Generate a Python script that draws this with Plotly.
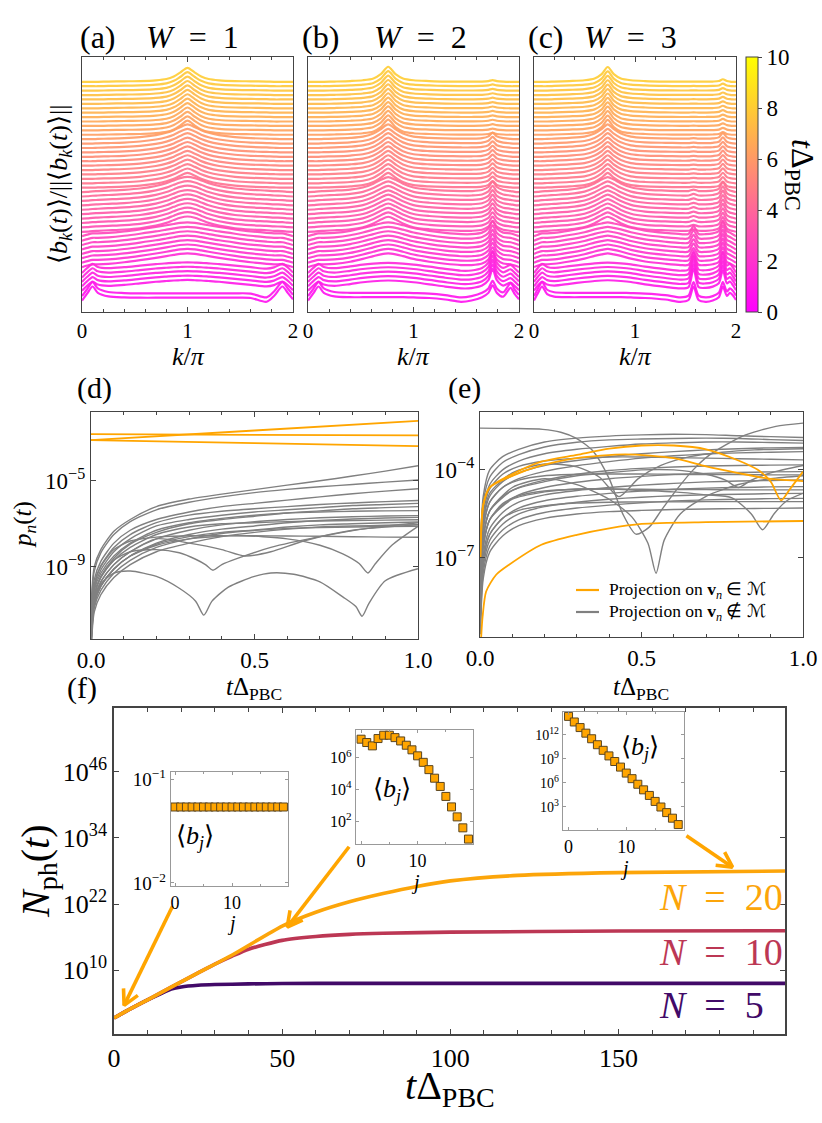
import numpy as np
import plotly.graph_objects as go

FIG_W, FIG_H = 822, 1123
FONT = "Liberation Serif"
ORANGE = "#FFA500"
GRAY = "#808080"
FRAME = "#444444"

# ------------------------------------------------------------------
# (a)-(c): waterfall of normalised <b_k(t)>, key profiles
# ------------------------------------------------------------------
N_CURVES = 50
T_FIRST, T_LAST = 0.6, 8.0          # colour-times of bottom / top curve
GROUP_START = [0, 2, 7, 15, 25, 37]  # first curve index using each key profile

K_A = [0, 0.05, 0.1, 0.15, 0.25, 0.4, 0.55, 0.7, 0.8, 0.87, 0.93, 1.0, 1.07, 1.13, 1.2, 1.3, 1.45, 1.6, 1.75, 1.82, 1.9, 1.95, 2.0]
A_P0 = [-1.0, 1.8, 4.5, 2.0, 0.6, 0.2, 0.1, 0.1, 0.1, 0.1, 0.1, 0.1, 0.1, 0.1, 0.1, 0.1, 0.1, 0.0, -1.5, 0.8, 4.5, 2.0, -0.5]
A_P1 = [-0.6, 1.4, 3.0, 1.8, 1.3, 1.7, 2.3, 2.9, 3.2, 3.4, 3.5, 3.6, 3.5, 3.4, 3.2, 2.9, 2.3, 1.7, 1.1, 1.6, 3.0, 1.6, -0.4]
A_P2 = [0.0, 0.6, 1.1, 1.1, 1.3, 1.9, 2.7, 3.6, 4.3, 4.8, 5.2, 5.4, 5.2, 4.8, 4.3, 3.6, 2.7, 1.9, 1.3, 1.1, 1.1, 0.6, 0.0]
A_P3 = [0.0, 0.1, 0.3, 0.4, 0.6, 0.9, 1.4, 2.4, 3.5, 4.6, 5.5, 6.0, 5.5, 4.6, 3.5, 2.4, 1.4, 0.9, 0.6, 0.4, 0.3, 0.1, 0.0]
A_P4 = [0.0, 0.0, 0.0, 0.1, 0.2, 0.4, 0.8, 1.6, 2.5, 3.5, 4.7, 5.8, 4.7, 3.5, 2.5, 1.6, 0.8, 0.4, 0.2, 0.1, 0.0, 0.0, 0.0]
A_P5 = [0.0, 0.0, 0.0, 0.0, 0.1, 0.2, 0.3, 0.6, 1.1, 2.1, 3.6, 5.5, 3.6, 2.1, 1.1, 0.6, 0.3, 0.2, 0.1, 0.0, 0.0, 0.0, 0.0]

K_B = [0, 0.05, 0.1, 0.15, 0.25, 0.4, 0.52, 0.62, 0.69, 0.76, 0.83, 0.9, 1.0, 1.15, 1.3, 1.45, 1.55, 1.65, 1.71, 1.75, 1.79, 1.85, 1.92, 1.96, 2.0]
B_P0 = [-1.0, 1.8, 4.5, 2.0, 0.6, 0.3, 0.3, 0.3, 0.3, 0.3, 0.3, 0.3, 0.2, 0.0, -0.6, -1.5, -1.0, 0.3, 2.0, 5.0, 2.0, 0.5, 4.0, 1.5, -0.5]
B_P1 = [-0.6, 1.4, 3.0, 1.8, 1.3, 2.0, 2.7, 3.1, 3.3, 3.4, 3.3, 3.1, 2.7, 1.9, 1.0, 0.3, 0.4, 1.4, 3.5, 8.0, 3.5, 1.4, 2.6, 1.2, -0.4]
B_P2 = [0.0, 0.6, 1.1, 1.1, 1.3, 2.1, 3.2, 4.3, 5.0, 5.4, 5.0, 4.3, 3.2, 2.1, 1.3, 0.8, 0.8, 1.4, 3.0, 6.0, 3.0, 1.4, 1.1, 0.6, 0.0]
B_P3 = [0.0, 0.1, 0.3, 0.4, 0.6, 1.0, 1.8, 3.3, 4.8, 5.9, 4.8, 3.3, 1.8, 1.0, 0.6, 0.4, 0.4, 0.8, 2.0, 4.2, 2.0, 0.8, 0.4, 0.1, 0.0]
B_P4 = [0.0, 0.0, 0.0, 0.1, 0.2, 0.5, 1.0, 2.2, 3.9, 5.8, 3.9, 2.2, 1.0, 0.5, 0.3, 0.2, 0.2, 0.4, 1.1, 2.6, 1.1, 0.4, 0.1, 0.0, 0.0]
B_P5 = [0.0, 0.0, 0.0, 0.0, 0.1, 0.3, 0.6, 1.3, 3.0, 5.9, 3.0, 1.3, 0.6, 0.3, 0.1, 0.05, 0.05, 0.1, 0.3, 0.7, 0.3, 0.1, 0.0, 0.0, 0.0]

K_C = [0, 0.04, 0.08, 0.13, 0.2, 0.35, 0.5, 0.6, 0.67, 0.73, 0.79, 0.86, 0.96, 1.1, 1.3, 1.45, 1.53, 1.58, 1.63, 1.7, 1.77, 1.83, 1.87, 1.91, 1.94, 1.97, 2.0]
C_P0 = [-1.0, 2.0, 4.5, 1.5, 0.5, 0.3, 0.3, 0.3, 0.3, 0.3, 0.3, 0.3, 0.2, 0.0, -0.6, -1.5, -0.8, 4.5, -0.8, -1.5, -1.0, 0.3, 4.5, 0.8, 2.0, 1.0, -0.8]
C_P1 = [-0.6, 1.5, 3.0, 1.8, 1.4, 2.1, 2.8, 3.2, 3.4, 3.5, 3.4, 3.2, 2.8, 1.9, 0.9, 0.3, 0.8, 8.0, 0.8, 0.5, 1.0, 2.3, 7.5, 2.3, 3.0, 1.5, -0.4]
C_P2 = [0.0, 0.6, 1.1, 1.1, 1.3, 2.2, 3.3, 4.4, 5.0, 5.4, 5.0, 4.4, 3.3, 2.2, 1.3, 0.8, 0.9, 4.0, 0.9, 0.8, 1.1, 2.0, 6.0, 2.0, 1.4, 0.7, 0.0]
C_P3 = [0.0, 0.1, 0.3, 0.4, 0.6, 1.0, 1.9, 3.4, 4.9, 5.9, 4.9, 3.4, 1.9, 1.0, 0.6, 0.4, 0.4, 1.0, 0.4, 0.4, 0.6, 1.3, 4.0, 1.3, 0.6, 0.3, 0.0]
C_P4 = [0.0, 0.0, 0.0, 0.1, 0.2, 0.5, 1.0, 2.2, 3.9, 5.8, 3.9, 2.2, 1.0, 0.5, 0.3, 0.2, 0.2, 0.4, 0.2, 0.2, 0.3, 0.7, 2.4, 0.7, 0.3, 0.1, 0.0]
C_P5 = [0.0, 0.0, 0.0, 0.0, 0.1, 0.3, 0.6, 1.3, 3.0, 5.8, 3.0, 1.3, 0.6, 0.3, 0.1, 0.05, 0.05, 0.1, 0.05, 0.05, 0.1, 0.3, 1.0, 0.3, 0.1, 0.0, 0.0]

Y_BASE, Y_STEP = 5.5, 1.73   # waterfall offset (style)

# ------------------------------------------------------------------
# (d): p_n(t), log10 values
# ------------------------------------------------------------------
D_T = [0.001, 0.01, 0.03, 0.07, 0.12, 0.2, 0.3, 0.4, 0.5, 0.6, 0.7, 0.8, 0.9, 1.0]
D_G01 = [-10.6, -9.0, -8.2, -7.35, -6.8, -6.2, -5.85, -5.62, -5.41, -5.2, -5.0, -4.78, -4.55, -4.30]
D_G02 = [-10.8, -9.2, -8.35, -7.5, -6.9, -6.35, -6.0, -5.75, -5.55, -5.4, -5.28, -5.17, -5.06, -4.96]
D_G03 = [-11.2, -9.6, -8.75, -7.9, -7.3, -6.8, -6.45, -6.2, -6.05, -5.9, -5.75, -5.6, -5.48, -5.37]
D_G04 = [-11.4, -9.8, -8.95, -8.1, -7.5, -6.95, -6.6, -6.42, -6.3, -6.2, -6.1, -6.03, -5.97, -5.92]
D_G05 = [-11.6, -10.0, -9.15, -8.3, -7.7, -7.1, -6.8, -6.6, -6.45, -6.35, -6.25, -6.15, -6.1, -6.05]
D_G06 = [-11.9, -10.3, -9.45, -8.6, -7.95, -7.4, -7.0, -6.8, -6.65, -6.5, -6.4, -6.3, -6.25, -6.2]
D_G07 = [-11.7, -10.1, -9.3, -8.5, -7.9, -7.3, -6.95, -6.75, -6.6, -6.5, -6.45, -6.42, -6.4, -6.39]
D_G08 = [-12.1, -10.5, -9.7, -8.9, -8.3, -7.7, -7.3, -7.05, -6.9, -6.8, -6.72, -6.67, -6.64, -6.62]
D_G09 = [-12.3, -10.7, -9.9, -9.1, -8.5, -7.9, -7.5, -7.25, -7.1, -6.95, -6.85, -6.78, -6.73, -6.70]
D_G10 = [-11.9, -10.3, -9.5, -8.7, -8.1, -7.5, -7.15, -7.0, -6.95, -6.9, -6.87, -6.85, -6.83, -6.81]
D_G11 = [-12.5, -10.9, -10.1, -9.3, -8.7, -8.1, -7.7, -7.45, -7.3, -7.15, -7.05, -7.0, -6.95, -6.92]
D_G12 = [-12.7, -11.1, -10.3, -9.5, -8.9, -8.3, -7.9, -7.6, -7.4, -7.25, -7.15, -7.1, -7.07, -7.04]
D_G13 = [-12.3, -10.7, -9.9, -9.1, -8.5, -7.95, -7.6, -7.4, -7.3, -7.22, -7.17, -7.15, -7.13, -7.12]
D_G14 = [-11.5, -9.9, -9.0, -8.2, -7.8, -7.62, -7.56, -7.55, -7.56, -7.57, -7.58, -7.6, -7.62, -7.63]

D_C1_T = [0.001, 0.01, 0.03, 0.07, 0.12, 0.2, 0.27, 0.32, 0.35, 0.373, 0.4, 0.45, 0.55, 0.7, 0.85, 1.0]
D_C1 = [-12.0, -10.4, -9.5, -8.7, -8.3, -8.2, -8.35, -8.65, -8.9, -9.16, -8.9, -8.6, -8.1, -7.6, -7.2, -6.95]
D_C2_T = [0.001, 0.01, 0.03, 0.07, 0.12, 0.2, 0.3, 0.4, 0.47, 0.55, 0.65, 0.8, 1.0]
D_C2 = [-12.2, -10.6, -9.7, -8.9, -8.3, -7.7, -7.9, -8.2, -8.5, -8.3, -7.8, -7.3, -7.05]
D_C3_T = [0.001, 0.01, 0.03, 0.07, 0.12, 0.2, 0.3, 0.45, 0.6, 0.7, 0.77, 0.82, 0.847, 0.87, 0.92, 1.0]
D_C3 = [-12.4, -10.8, -9.9, -9.1, -8.5, -8.0, -7.7, -7.55, -7.7, -8.0, -8.4, -8.85, -9.29, -8.85, -8.0, -7.12]
D_C4_T = [0.001, 0.01, 0.03, 0.07, 0.12, 0.2, 0.27, 0.32, 0.345, 0.37, 0.42, 0.5, 0.55, 0.62, 0.7, 0.77, 0.81, 0.829, 0.85, 0.9, 1.0]
D_C4 = [-12.4, -10.6, -9.8, -9.3, -9.2, -9.45, -10.0, -10.6, -11.25, -10.6, -9.95, -9.45, -9.29, -9.35, -9.7, -10.4, -10.85, -11.3, -10.7, -9.65, -9.09]

D_OR_T = [0.0, 0.5, 1.0]
D_O1 = [-3.11, -2.66, -2.21]
D_O2 = [-2.83, -2.86, -2.89]
D_O3 = [-3.11, -3.25, -3.39]

# ------------------------------------------------------------------
# (e): p_n(t), log10 values
# ------------------------------------------------------------------
E_T = [0.001, 0.01, 0.03, 0.07, 0.12, 0.2, 0.3, 0.4, 0.5, 0.6, 0.7, 0.8, 0.9, 1.0]
E_G01 = [-6.8, -4.9, -4.0, -3.55, -3.3, -3.05, -2.92, -2.85, -2.81, -2.79, -2.8, -2.84, -2.87, -2.9]
E_G02 = [-7.0, -5.1, -4.25, -3.75, -3.48, -3.22, -3.06, -2.98, -2.95, -2.93, -2.92, -2.93, -2.97, -3.0]
E_G03 = [-7.3, -5.4, -4.5, -4.0, -3.7, -3.45, -3.3, -3.2, -3.12, -3.08, -3.05, -3.05, -3.07, -3.09]
E_G04 = [-7.7, -5.8, -4.9, -4.4, -4.1, -3.85, -3.68, -3.55, -3.45, -3.38, -3.32, -3.28, -3.25, -3.24]
E_G05 = [-7.9, -6.0, -5.1, -4.6, -4.3, -4.05, -3.86, -3.72, -3.6, -3.52, -3.46, -3.42, -3.4, -3.38]
E_G06 = [-7.4, -5.5, -4.65, -4.15, -3.88, -3.7, -3.6, -3.56, -3.56, -3.58, -3.6, -3.62, -3.64, -3.66]
E_G07 = [-8.2, -6.3, -5.4, -4.9, -4.6, -4.35, -4.15, -4.02, -3.95, -3.9, -3.87, -3.85, -3.84, -3.83]
E_G08 = [-8.5, -6.6, -5.7, -5.2, -4.85, -4.6, -4.42, -4.3, -4.22, -4.16, -4.12, -4.09, -4.07, -4.06]
E_G09 = [-7.9, -6.0, -5.1, -4.6, -4.35, -4.2, -4.15, -4.14, -4.14, -4.15, -4.16, -4.16, -4.17, -4.17]
E_G10 = [-8.8, -6.9, -6.0, -5.45, -5.1, -4.85, -4.7, -4.6, -4.52, -4.46, -4.41, -4.38, -4.36, -4.34]
E_G11 = [-9.0, -7.1, -6.2, -5.65, -5.3, -5.05, -4.9, -4.8, -4.72, -4.66, -4.62, -4.6, -4.58, -4.57]
E_G12 = [-8.5, -6.6, -5.7, -5.15, -4.88, -4.72, -4.66, -4.65, -4.66, -4.67, -4.67, -4.68, -4.68, -4.68]
E_G13 = [-9.2, -7.3, -6.4, -5.85, -5.5, -5.25, -5.1, -5.0, -4.93, -4.88, -4.85, -4.83, -4.81, -4.8]
E_G14 = [-9.4, -7.5, -6.6, -6.05, -5.7, -5.45, -5.3, -5.2, -5.12, -5.06, -5.02, -5.0, -4.98, -4.97]
E_G15 = [-9.0, -7.1, -6.2, -5.65, -5.38, -5.22, -5.13, -5.1, -5.09, -5.09, -5.08, -5.08, -5.08, -5.08]
E_G16 = [-9.6, -7.7, -6.8, -6.25, -5.9, -5.65, -5.5, -5.42, -5.38, -5.35, -5.33, -5.32, -5.31, -5.3]

E_C1_T = [0.0, 0.1, 0.194, 0.25, 0.297, 0.349, 0.4, 0.442, 0.483, 0.524, 0.56, 0.607, 0.66, 0.71, 0.813, 0.916, 1.0]
E_C1 = [-2.58, -2.59, -2.62, -2.72, -2.92, -3.35, -4.3, -5.5, -6.19, -5.95, -5.4, -4.7, -4.0, -3.5, -2.85, -2.52, -2.41]
E_C2_T = [0.001, 0.01, 0.03, 0.1, 0.2, 0.3, 0.4, 0.47, 0.52, 0.545, 0.57, 0.62, 0.7, 0.8, 0.9, 1.0]
E_C2 = [-8.2, -6.3, -5.4, -4.6, -4.3, -4.5, -5.0, -5.6, -6.5, -7.52, -6.4, -5.5, -4.9, -4.5, -4.3, -4.2]
E_C3_T = [0.001, 0.01, 0.03, 0.1, 0.2, 0.3, 0.4, 0.5, 0.6, 0.7, 0.78, 0.84, 0.875, 0.91, 0.95, 1.0]
E_C3 = [-8.5, -6.6, -5.7, -5.0, -4.75, -4.65, -4.65, -4.7, -4.75, -4.85, -4.95, -5.5, -6.04, -5.5, -5.05, -4.8]
E_C4_T = [0.001, 0.01, 0.03, 0.1, 0.2, 0.3, 0.4, 0.5, 0.6, 0.7, 0.76, 0.8, 0.84, 0.9, 1.0]
E_C4 = [-8.2, -6.3, -5.4, -4.7, -4.4, -4.2, -4.1, -4.0, -4.0, -4.15, -4.35, -4.6, -4.35, -4.1, -3.85]
E_C5_T = [0.001, 0.01, 0.03, 0.1, 0.2, 0.3, 0.37, 0.43, 0.49, 0.56, 0.65, 0.75, 0.85, 1.0]
E_C5 = [-7.6, -5.7, -4.8, -4.1, -3.8, -3.9, -4.25, -4.91, -4.3, -3.85, -3.55, -3.4, -3.32, -3.28]

E_O1_T = [0.001, 0.01, 0.03, 0.09, 0.19, 0.3, 0.4, 0.5, 0.6, 0.7, 0.8, 0.86, 0.9, 0.932, 0.96, 1.0]
E_O1 = [-7.0, -5.2, -4.6, -4.2, -3.72, -3.49, -3.28, -3.17, -3.17, -3.3, -3.68, -4.0, -4.4, -5.04, -4.65, -4.06]
E_O2_T = [0.001, 0.01, 0.03, 0.09, 0.19, 0.3, 0.45, 0.6, 0.7, 0.8, 0.9, 1.0]
E_O2 = [-7.0, -5.2, -4.6, -4.25, -3.85, -3.6, -3.47, -3.6, -3.88, -4.11, -4.31, -4.38]
E_O3_T = [0.002, 0.008, 0.019, 0.05, 0.09, 0.19, 0.3, 0.4, 0.5, 0.7, 1.0]
E_O3 = [-10.0, -9.0, -8.14, -7.57, -7.23, -6.55, -6.21, -5.99, -5.84, -5.78, -5.74]

# ------------------------------------------------------------------
# (f): N_ph(t), log10 values
# ------------------------------------------------------------------
F_T20 = [0, 5, 10, 17, 25, 35, 50, 60, 70, 80, 90, 100, 120, 150, 200]
F_N20 = [1.3, 3.0, 4.6, 6.9, 9.5, 12.7, 18.0, 20.5, 22.4, 23.9, 25.2, 26.2, 27.2, 27.7, 28.0]
F_T10 = [0, 5, 10, 17, 25, 30, 35, 40, 50, 60, 70, 80, 100, 150, 200]
F_N10 = [1.3, 3.0, 4.6, 6.9, 9.5, 11.1, 12.5, 13.8, 15.4, 16.1, 16.5, 16.7, 16.9, 17.1, 17.15]
F_T5 = [0, 5, 10, 14, 17, 20, 25, 30, 40, 50, 70, 100, 200]
F_N5 = [1.3, 3.0, 4.6, 5.75, 6.55, 6.95, 7.25, 7.38, 7.5, 7.56, 7.6, 7.6, 7.6]
F_LABELS = ["<i>N</i>\u2002=\u200220", "<i>N</i>\u2002=\u200210", "<i>N</i>\u2002=\u20025"]
F_COLORS = ["#FCA50A", "#BC3754", "#420A68"]

ARROW_T0 = [17.4, 69.9, 170.2]
ARROW_L0 = [21.6, 32.4, 34.4]
ARROW_T1 = [3.0, 51.5, 183.9]
ARROW_L1 = [3.6, 17.8, 28.7]

# insets: <b_j>
J = [0, 1, 2, 3, 4, 5, 6, 7, 8, 9, 10, 11, 12, 13, 14, 15, 16, 17, 18, 19]
INSET1_B = [0.054, 0.054, 0.054, 0.054, 0.054, 0.054, 0.054, 0.054, 0.054, 0.054,
            0.054, 0.054, 0.054, 0.054, 0.054, 0.054, 0.054, 0.054, 0.054, 0.054]
INSET2_LOG = [7.17, 6.96, 6.75, 7.21, 7.42, 7.42, 7.27, 7.06, 6.79, 6.5,
              6.12, 5.71, 5.25, 4.71, 4.19, 3.56, 2.9, 2.27, 1.58, 0.87]
INSET3_LOG = [14.3, 13.6, 12.9, 12.2, 11.5, 10.75, 10.05, 9.35, 8.65, 7.95,
              7.2, 6.5, 5.8, 5.1, 4.4, 3.65, 2.95, 2.25, 1.55, 0.75]


# ------------------------------------------------------------------
def xd(p0, p1):
    return [p0 / FIG_W, p1 / FIG_W]


def yd(p0, p1):
    return [1 - p1 / FIG_H, 1 - p0 / FIG_H]


def PX(x):
    return x / FIG_W


def PY(y):
    return 1 - y / FIG_H


def spring(x):
    x = min(max(x, 0.0), 1.0)
    return f"rgb(255,{round(255 * x)},{round(255 * (1 - x))})"


def p10(v):
    return [10.0 ** a for a in v]


fig = go.Figure()

# ---- top waterfalls
times = np.linspace(T_FIRST, T_LAST, N_CURVES)
tops = [(K_A, [A_P0, A_P1, A_P2, A_P3, A_P4, A_P5], "x", "y"),
        (K_B, [B_P0, B_P1, B_P2, B_P3, B_P4, B_P5], "x2", "y2"),
        (K_C, [C_P0, C_P1, C_P2, C_P3, C_P4, C_P5], "x3", "y3")]
for K, profs, xa, ya in tops:
    for p in profs:
        assert len(p) == len(K)
    for i in range(N_CURVES):
        g = max(j for j, s in enumerate(GROUP_START) if s <= i)
        yv = [Y_BASE + Y_STEP * i + v for v in profs[g]]
        fig.add_trace(go.Scatter(x=K, y=yv, mode="lines",
                                 line=dict(color=spring(times[i] / 10), width=2.2, shape="spline", smoothing=0.8),
                                 opacity=0.9, xaxis=xa, yaxis=ya, showlegend=False, hoverinfo="skip"))

# colour bar carrier
CBAR = dict(x=PX(746), xanchor="left", xpad=0, y=PY(184.5), yanchor="middle",
            ypad=0, len=255, lenmode="pixels", thickness=12,
            thicknessmode="pixels", outlinewidth=1, outlinecolor=FRAME,
            tickmode="array", tickvals=[0, 2, 4, 6, 8, 10],
            ticks="outside", ticklen=4, tickcolor=FRAME,
            tickfont=dict(family=FONT, size=23, color="black"))
fig.add_trace(go.Scatter(x=[1], y=[-50], mode="markers", xaxis="x3", yaxis="y3", showlegend=False,
                         hoverinfo="skip",
                         marker=dict(size=1, color=[0], cmin=0, cmax=10,
                                     colorscale=[[0, "rgb(255,0,255)"], [1, "rgb(255,255,0)"]],
                                     showscale=True, colorbar=CBAR)))


def line_trace(x, logv, color, width, xa, ya):
    return go.Scatter(x=x, y=p10(logv), mode="lines",
                      line=dict(color=color, width=width, shape="spline", smoothing=0.7),
                      xaxis=xa, yaxis=ya, showlegend=False, hoverinfo="skip")


# ---- (d)
for g in [D_G01, D_G02, D_G03, D_G04, D_G05, D_G06, D_G07, D_G08, D_G09, D_G10, D_G11, D_G12, D_G13, D_G14]:
    fig.add_trace(line_trace(D_T, g, GRAY, 1.4, "x4", "y4"))
for t, g in [(D_C1_T, D_C1), (D_C2_T, D_C2), (D_C3_T, D_C3), (D_C4_T, D_C4)]:
    fig.add_trace(line_trace(t, g, GRAY, 1.4, "x4", "y4"))
for g in [D_O1, D_O2, D_O3]:
    fig.add_trace(line_trace(D_OR_T, g, ORANGE, 1.8, "x4", "y4"))

# ---- (e)
for g in [E_G01, E_G02, E_G03, E_G04, E_G05, E_G06, E_G07, E_G08, E_G09, E_G10, E_G11, E_G12, E_G13,
          E_G14, E_G15, E_G16]:
    fig.add_trace(line_trace(E_T, g, GRAY, 1.4, "x5", "y5"))
for t, g in [(E_C1_T, E_C1), (E_C2_T, E_C2), (E_C3_T, E_C3), (E_C4_T, E_C4), (E_C5_T, E_C5)]:
    fig.add_trace(line_trace(t, g, GRAY, 1.4, "x5", "y5"))
for t, g in [(E_O1_T, E_O1), (E_O2_T, E_O2), (E_O3_T, E_O3)]:
    fig.add_trace(line_trace(t, g, ORANGE, 1.8, "x5", "y5"))

# ---- (f)
F_DOM_X = (114, 785)
F_DOM_Y = (708, 1034)
F_XR = [0, 199.5]
F_YR = [-1.6, 57.6]
for t, v, c in [(F_T5, F_N5, F_COLORS[2]), (F_T10, F_N10, F_COLORS[1]), (F_T20, F_N20, F_COLORS[0])]:
    fig.add_trace(go.Scatter(x=t, y=p10(v), mode="lines", line=dict(color=c, width=3.6, shape="spline", smoothing=0.6),
                             xaxis="x6", yaxis="y6", showlegend=False, hoverinfo="skip"))


def f_px(t, lg):
    x = F_DOM_X[0] + (t - F_XR[0]) / (F_XR[1] - F_XR[0]) * (F_DOM_X[1] - F_DOM_X[0])
    y = F_DOM_Y[1] - (lg - F_YR[0]) / (F_YR[1] - F_YR[0]) * (F_DOM_Y[1] - F_DOM_Y[0])
    return x, y


def f_data(x, y):
    t = F_XR[0] + (x - F_DOM_X[0]) / (F_DOM_X[1] - F_DOM_X[0]) * (F_XR[1] - F_XR[0])
    lg = F_YR[0] + (F_DOM_Y[1] - y) / (F_DOM_Y[1] - F_DOM_Y[0]) * (F_YR[1] - F_YR[0])
    return t, lg


HEAD_LEN, HEAD_ANG = 17.0, np.radians(28)
for t0, l0, t1, l1 in zip(ARROW_T0, ARROW_L0, ARROW_T1, ARROW_L1):
    x0, y0 = f_px(t0, l0)
    x1, y1 = f_px(t1, l1)
    d = np.array([x1 - x0, y1 - y0])
    d = d / np.linalg.norm(d)
    pts = []
    for s in (+1, -1):
        c, sn = np.cos(s * HEAD_ANG), np.sin(s * HEAD_ANG)
        r = np.array([c * d[0] - sn * d[1], sn * d[0] + c * d[1]])
        pts.append((x1 - HEAD_LEN * r[0], y1 - HEAD_LEN * r[1]))
    seq = [(x0, y0), (x1, y1), None, pts[0], (x1, y1), pts[1]]
    xs, ys = [], []
    for p in seq:
        if p is None:
            xs.append(None)
            ys.append(None)
        else:
            tt, ll = f_data(*p)
            xs.append(tt)
            ys.append(10.0 ** ll)
    fig.add_trace(go.Scatter(x=xs, y=ys, mode="lines", line=dict(color=ORANGE, width=3.6),
                             xaxis="x6", yaxis="y6", showlegend=False, hoverinfo="skip"))

# ---- insets
MK = dict(symbol="square", size=8, color=ORANGE, line=dict(color="#5a4520", width=1))
fig.add_trace(go.Scatter(x=J, y=INSET1_B, mode="markers", marker=MK, xaxis="x7", yaxis="y7",
                         showlegend=False, hoverinfo="skip"))
fig.add_trace(go.Scatter(x=J, y=p10(INSET2_LOG), mode="markers", marker=MK, xaxis="x8", yaxis="y8",
                         showlegend=False, hoverinfo="skip"))
fig.add_trace(go.Scatter(x=J, y=p10(INSET3_LOG), mode="markers", marker=MK, xaxis="x9", yaxis="y9",
                         showlegend=False, hoverinfo="skip"))


# ------------------------------------------------------------------
def axis(domain, anchor, size=20, lc=FRAME, **kw):
    d = dict(domain=domain, anchor=anchor, showline=True, linecolor=lc, linewidth=1.2, mirror="ticks",
             ticks="inside", ticklen=5, tickcolor=lc, showgrid=False, zeroline=False, automargin=False,
             tickfont=dict(family=FONT, size=size, color="black"))
    d.update(kw)
    return d


def sup(e):
    return "10<sup>" + str(e).replace("-", "\u2212") + "</sup>"


TOPX = dict(range=[0, 2], tickmode="array", tickvals=[0, 1, 2], ticktext=["0", "1", "2"],
            minor=dict(tickmode="linear", tick0=0, dtick=0.2, ticks="inside", ticklen=3, tickcolor=FRAME))
TOPY = dict(range=[0, 100], showticklabels=False, ticks="")
MINOR_D = dict(tickmode="linear", tick0=0, dtick=0.1, ticks="inside", ticklen=3, tickcolor=FRAME)
MINOR_F = dict(tickmode="linear", tick0=0, dtick=10, ticks="inside", ticklen=4, tickcolor=FRAME)
MINOR_I = dict(tickmode="linear", tick0=0, dtick=5, ticks="inside", ticklen=2, tickcolor="#999999")

lay = dict(
    xaxis=axis(xd(82, 293), "y", size=21, **TOPX),
    yaxis=axis(yd(57, 312), "x", **TOPY),
    xaxis2=axis(xd(308, 519), "y2", size=21, **TOPX),
    yaxis2=axis(yd(57, 312), "x2", **TOPY),
    xaxis3=axis(xd(534, 736), "y3", size=21, **TOPX),
    yaxis3=axis(yd(57, 312), "x3", **TOPY),
    xaxis4=axis(xd(91, 418), "y4", size=23, range=[0, 1], tickmode="array", tickvals=[0, 0.5, 1],
                ticktext=["0.0", "0.5", "1.0"], minor=MINOR_D),
    yaxis4=axis(yd(412, 639), "x4", size=23, type="log", range=[-12.36, -1.8], tickmode="array",
                tickvals=[1e-9, 1e-5], ticktext=[sup(-9), sup(-5)]),
    xaxis5=axis(xd(480, 803), "y5", size=23, range=[0, 1], tickmode="array", tickvals=[0, 0.5, 1],
                ticktext=["0.0", "0.5", "1.0"], minor=MINOR_D),
    yaxis5=axis(yd(412, 637), "x5", size=23, type="log", range=[-9.69, -2.03], tickmode="array",
                tickvals=[1e-7, 1e-4], ticktext=[sup(-7), sup(-4)]),
    xaxis6=axis(xd(*F_DOM_X), "y6", size=26, range=F_XR, tickmode="array", tickvals=[0, 50, 100, 150],
                ticktext=["0", "50", "100", "150"], linewidth=1.8, minor=MINOR_F),
    yaxis6=axis(yd(*F_DOM_Y), "x6", size=26, type="log", range=F_YR, tickmode="array", linewidth=1.8,
                tickvals=[1e10, 1e22, 1e34, 1e46], ticktext=[sup(10), sup(22), sup(34), sup(46)]),
    xaxis7=axis(xd(171, 288), "y7", size=18, lc="#999999", range=[-0.7, 19.8], tickmode="array",
                tickvals=[0, 10], ticktext=["0", "10"], ticklen=3, minor=MINOR_I),
    yaxis7=axis(yd(772, 886), "x7", size=19, lc="#999999", type="log", range=[-2.03, -0.93], tickmode="array",
                tickvals=[0.01, 0.1], ticktext=[sup(-2), sup(-1)], ticklen=3),
    xaxis8=axis(xd(356, 473), "y8", size=18, lc="#999999", range=[-0.9, 19.8], tickmode="array",
                tickvals=[0, 10], ticktext=["0", "10"], ticklen=3, minor=MINOR_I),
    yaxis8=axis(yd(730, 844), "x8", size=16, lc="#999999", type="log", range=[0.56, 7.75], tickmode="array",
                tickvals=[1e2, 1e4, 1e6], ticktext=[sup(2), sup(4), sup(6)], ticklen=3),
    xaxis9=axis(xd(563, 684), "y9", size=18, lc="#999999", range=[-0.96, 20], tickmode="array",
                tickvals=[0, 10], ticktext=["0", "10"], ticklen=3, minor=MINOR_I),
    yaxis9=axis(yd(712, 830), "x9", size=14, lc="#999999", type="log", range=[0.07, 14.85], tickmode="array",
                tickvals=[1e3, 1e6, 1e9, 1e12], ticktext=[sup(3), sup(6), sup(9), sup(12)], ticklen=3),
)


def ann(text, x, y, size, xanchor="center", yanchor="middle", angle=0, color="black"):
    return dict(text=text, x=PX(x), y=PY(y), xref="paper", yref="paper", showarrow=False,
                xanchor=xanchor, yanchor=yanchor, textangle=angle,
                font=dict(family=FONT, size=size, color=color))


TDPBC = "<i>t</i>\u0394<sub>PBC</sub>"
KPI = "<i>k</i>/<i>\u03c0</i>"
BJ = "\u27e8<i>b</i><sub><i>j</i></sub>\u27e9"
anns = [
    ann("(a)", 78, 37, 32, xanchor="left"), ann("<i>W</i>\u2002=\u20021", 144, 37, 32, xanchor="left"),
    ann("(b)", 300, 37, 32, xanchor="left"), ann("<i>W</i>\u2002=\u20022", 372, 37, 32, xanchor="left"),
    ann("(c)", 526, 37, 32, xanchor="left"), ann("<i>W</i>\u2002=\u20023", 582, 37, 32, xanchor="left"),
    ann(KPI, 188, 356, 26), ann(KPI, 413, 356, 26), ann(KPI, 635, 356, 26),
    ann("\u27e8<i>b</i><sub><i>k</i></sub>(<i>t</i>)\u27e9/||\u27e8<i>b</i><sub><i>k</i></sub>(<i>t</i>)\u27e9||",
        60, 184, 26, angle=-90),
    ann(TDPBC, 801, 175, 32, angle=90),
    ann("(d)", 75, 388, 30, xanchor="left"), ann("(e)", 446, 388, 30, xanchor="left"),
    ann("<i>p</i><sub><i>n</i></sub>(<i>t</i>)", 24, 525, 25, angle=-90),
    ann(TDPBC, 254, 688, 25), ann(TDPBC, 641, 688, 25),
    ann("Projection on <b>v</b><sub><i>n</i></sub> \u2208 \u2133", 607, 590, 17.5, xanchor="left"),
    ann("Projection on <b>v</b><sub><i>n</i></sub> \u2209 \u2133", 607, 612, 17.5, xanchor="left"),
    ann("(f)", 65, 688, 30, xanchor="left"),
    ann("<i>N</i><sub>ph</sub>(<i>t</i>)", 38, 872, 40, angle=-90),
    ann(TDPBC, 450, 1088, 40),
    ann(F_LABELS[0], 657, 897, 38, xanchor="left", color=F_COLORS[0]),
    ann(F_LABELS[1], 657, 952, 38, xanchor="left", color=F_COLORS[1]),
    ann(F_LABELS[2], 657, 1005, 38, xanchor="left", color=F_COLORS[2]),
    ann(BJ, 195, 837, 26), ann(BJ, 392, 790, 26), ann(BJ, 640, 748, 26),
    ann("<i>j</i>", 231, 923, 20), ann("<i>j</i>", 415, 882, 20), ann("<i>j</i>", 624, 868, 20),
]

shapes = [
    dict(type="line", xref="paper", yref="paper", x0=PX(576), x1=PX(599), y0=PY(590), y1=PY(590),
         line=dict(color=ORANGE, width=2.2)),
    dict(type="line", xref="paper", yref="paper", x0=PX(576), x1=PX(599), y0=PY(612), y1=PY(612),
         line=dict(color=GRAY, width=2.2)),
]

fig.update_layout(width=FIG_W, height=FIG_H, autosize=False,
                  margin=dict(l=0, r=0, t=0, b=0, pad=0, autoexpand=False),
                  paper_bgcolor="white", plot_bgcolor="white", showlegend=False,
                  font=dict(family=FONT, color="black"), annotations=anns, shapes=shapes, **lay)

fig.write_html("out.html", config={"displayModeBar": False, "staticPlot": True},
               post_script="document.body.style.margin='0px';")
